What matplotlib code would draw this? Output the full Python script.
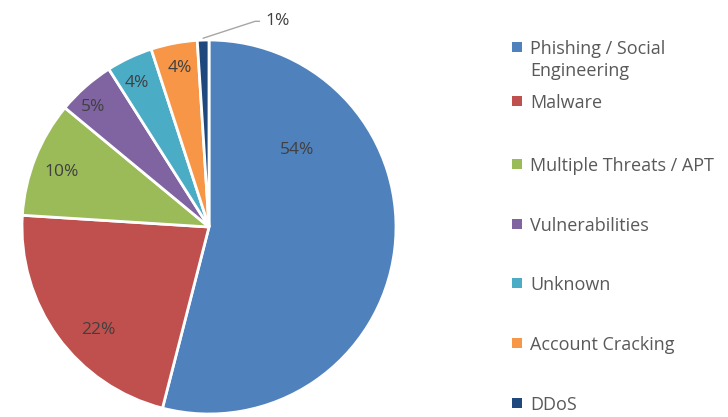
import matplotlib
matplotlib.use("Agg")
import matplotlib.pyplot as plt
from matplotlib.patches import Rectangle
import numpy as np

categories = ["Phishing / Social\nEngineering", "Malware", "Multiple Threats / APT",
              "Vulnerabilities", "Unknown", "Account Cracking", "DDoS"]
values = [54, 22, 10, 5, 4, 4, 1]
colors = ["#4F81BD", "#C0504D", "#9BBB59", "#8064A2", "#4BACC6", "#F79646", "#1F497D"]

plt.rcParams['font.family'] = ['Open Sans', 'DejaVu Sans']

fig = plt.figure(figsize=(7.28, 4.17), dpi=100)
ax = fig.add_axes([22/728, 3/417, 374/728, 374/417])

wedges, texts, autotexts = ax.pie(
    values, colors=colors, startangle=90, counterclock=False,
    autopct=lambda p: f"{p:.0f}%", pctdistance=0.85,
    wedgeprops=dict(edgecolor="white", linewidth=2),
    textprops=dict(color="#404040", fontsize=12.5))
ax.set_xlim(-1, 1)
ax.set_ylim(-1, 1)
ax.set_aspect("equal")
ax.axis("off")

# label placement (angle deg, radius fraction), Excel "best fit"-like
label_pos = [(41, 0.625), (-137, 0.81), (159.5, 0.84), (134, 0.89), (116.6, 0.86), (100.3, 0.865), None]
for t, pos in zip(autotexts, label_pos):
    if pos is None:
        t.set_visible(False)
        continue
    a, r = pos
    t.set_position((r * np.cos(np.radians(a)), r * np.sin(np.radians(a))))

# 1% callout outside
w = wedges[-1]
mid = np.radians((w.theta1 + w.theta2) / 2)
x0, y0 = 1.01 * np.cos(mid), 1.01 * np.sin(mid)
ax.annotate(f"{values[-1]}%", xy=(x0, y0), xytext=(0.30, 1.10),
            color="#404040", fontsize=12.5, va="center", ha="left",
            arrowprops=dict(arrowstyle="-", color="#A6A6A6", lw=1,
                            connectionstyle="angle,angleA=0,angleB=18,rad=0",
                            shrinkA=2, shrinkB=0),
            annotation_clip=False)

# legend
leg_y = [47, 101, 164, 224, 283, 343, 403]
for lab, c, y in zip(categories, colors, leg_y):
    fy = 1 - y / 417
    fig.patches.append(Rectangle((512/728, fy - 5/417), 10/728, 10/417,
                                 transform=fig.transFigure, facecolor=c, edgecolor="none"))
    fig.text(530/728, fy + 7/417, lab, fontsize=13, color="#595959", va="top", ha="left",
             linespacing=1.3)

fig.savefig("out.png", dpi=100)
